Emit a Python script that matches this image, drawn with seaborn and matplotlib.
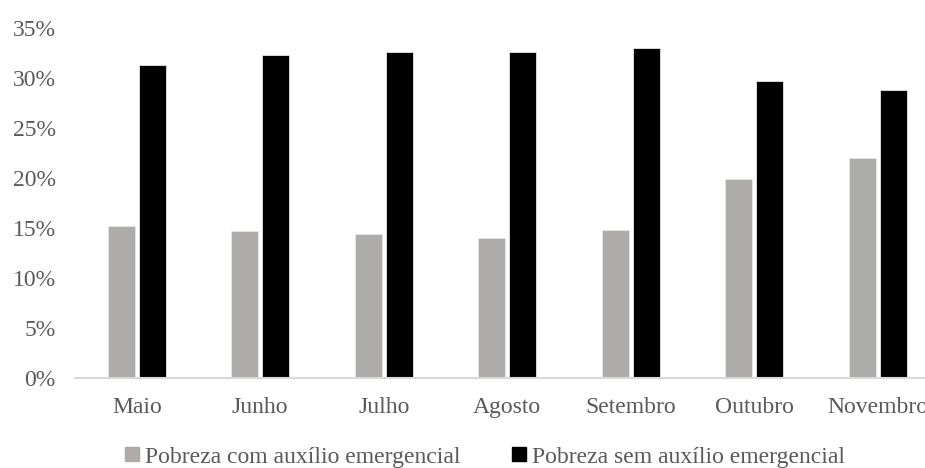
import matplotlib
matplotlib.use("Agg")
import matplotlib.pyplot as plt
from matplotlib.ticker import PercentFormatter
from matplotlib.lines import Line2D
import seaborn as sns
import pandas as pd

meses = ["Maio", "Junho", "Julho", "Agosto", "Setembro", "Outubro", "Novembro"]
com_auxilio = [15.2, 14.7, 14.4, 14.0, 14.8, 19.9, 22.0]
sem_auxilio = [31.3, 32.3, 32.6, 32.6, 33.0, 29.7, 28.8]
series = ["Pobreza com auxílio emergencial", "Pobreza sem auxílio emergencial"]
cores = ["#AEAAAA", "#000000"]

df = pd.DataFrame({
    "mes": meses * 2,
    "valor": [v / 100 for v in com_auxilio + sem_auxilio],
    "serie": [series[0]] * len(meses) + [series[1]] * len(meses),
})

sns.set_theme(style="white")
plt.rcParams["font.family"] = ["Liberation Serif", "DejaVu Serif"]

fig = plt.figure(figsize=(9.25, 4.68), dpi=100)
ax = fig.add_axes([75 / 925, 90 / 468, 864.5 / 925, 350 / 468])

sns.barplot(data=df, x="mes", y="valor", hue="serie", palette=cores,
            width=0.5, gap=0.13, ax=ax, legend=False,
            edgecolor="#E6E6E6", linewidth=0.6)

ax.set_ylim(0, 0.35)
ax.set_yticks([i * 0.05 for i in range(8)])
ax.yaxis.set_major_formatter(PercentFormatter(1.0, decimals=0))
ax.set_xlabel("")
ax.set_ylabel("")
for s in ["top", "right", "left"]:
    ax.spines[s].set_visible(False)
ax.spines["bottom"].set_color("#D9D9D9")
ax.spines["bottom"].set_linewidth(1.5)
ax.tick_params(axis="both", length=0, labelsize=17, colors="#595959")
ax.tick_params(axis="x", pad=14)
ax.tick_params(axis="y", pad=14)

handles = [Line2D([0], [0], marker="s", linestyle="none", markersize=9.5,
                  markerfacecolor=c, markeredgecolor=c) for c in cores]
fig.legend(handles, series, loc="center", bbox_to_anchor=(485 / 925, 1 - 457 / 468),
           ncol=2, frameon=False, fontsize=17, labelcolor="#595959",
           handletextpad=0.25, columnspacing=2.2, handlelength=0.6)

fig.savefig("out.png", dpi=100)
